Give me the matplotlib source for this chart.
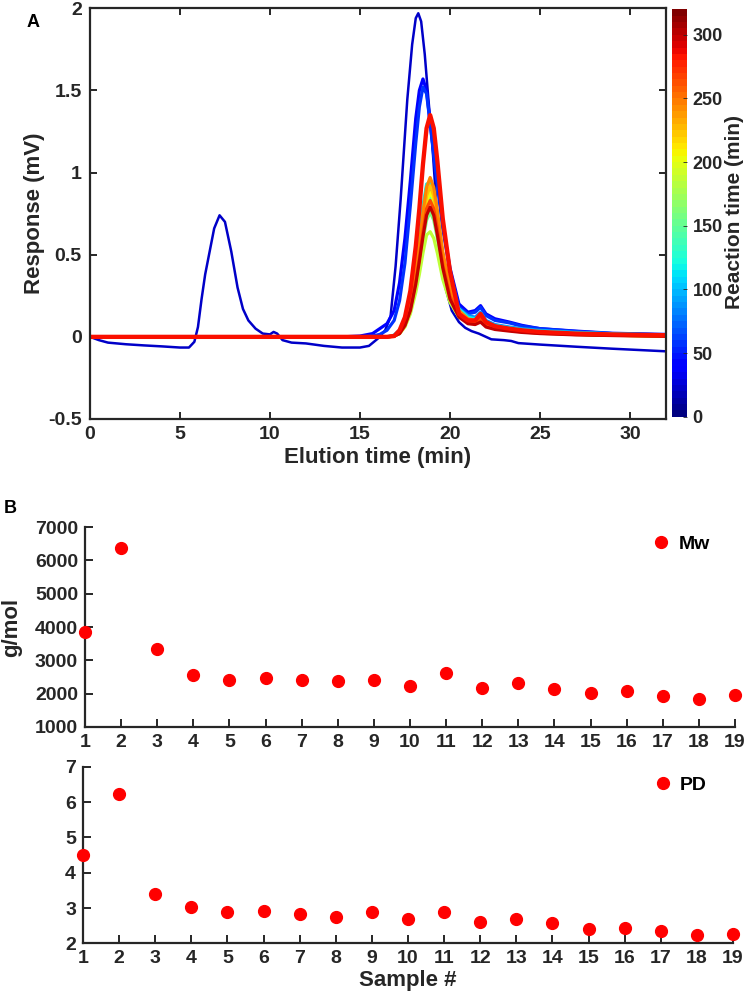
import matplotlib.pyplot as plt
import matplotlib as mpl

plt.rcParams['font.family'] = ['Liberation Sans', 'DejaVu Sans']
plt.rcParams['font.weight'] = 'bold'
plt.rcParams['axes.labelweight'] = 'bold'

# ---- panel A: chromatograms ----
# first sample (has its own time points, low-MW peak at 7 min)
t_first = [0, 0.5, 1, 2, 3, 4, 5, 5.5, 5.8, 6.0, 6.2, 6.4, 6.65, 6.9, 7.2,
           7.5, 7.85, 8.2, 8.5, 8.8, 9.2, 9.6, 10.0, 10.2, 10.4, 10.7, 11.2, 12, 13, 14, 15,
           15.5, 16.0, 16.4, 16.7, 16.98, 17.26, 17.63, 17.9, 18.1, 18.24, 18.4, 18.6, 18.8, 19.0,
           19.25, 19.5, 19.75, 20.1, 20.5, 20.85, 21.2, 21.6, 22.3, 23.0, 23.4, 23.8, 25, 27, 29, 32]
resp_first = [0, -0.02, -0.035, -0.045, -0.052, -0.058, -0.065, -0.065, -0.03, 0.06, 0.23, 0.38, 0.52, 0.66, 0.74,
              0.7, 0.52, 0.3, 0.17, 0.1, 0.05, 0.02, 0.015, 0.03, 0.02, -0.02, -0.035, -0.04, -0.055, -0.065, -0.065,
              -0.055, -0.01, 0.04, 0.125, 0.43, 0.836, 1.445, 1.78, 1.94, 1.97, 1.92, 1.72, 1.45, 1.2,
              0.8, 0.5, 0.3, 0.16, 0.09, 0.055, 0.035, 0.02, -0.015, -0.02, -0.025, -0.038, -0.047, -0.06, -0.072, -0.088]
rt_first = 20

# remaining samples on a common time grid
t_grid = [0, 14, 15, 15.7, 16.1, 16.5, 16.9, 17.2, 17.5, 17.8, 18.1, 18.3, 18.5, 18.7, 18.9,
          19.1, 19.3, 19.6, 20.0, 20.5, 21.0, 21.4, 21.7, 22.0, 22.5, 23.3, 24, 25, 27, 29, 32]
resp_40 = [0, 0, 0.005, 0.02, 0.05, 0.08, 0.16, 0.33, 0.6, 0.95, 1.33, 1.5, 1.57, 1.5, 1.3,
           1.12, 0.95, 0.68, 0.42, 0.2, 0.15, 0.16, 0.19, 0.14, 0.11, 0.09, 0.07, 0.05, 0.035, 0.022, 0.015]
resp_55 = [0, 0, 0, 0.005, 0.015, 0.04, 0.1, 0.22, 0.45, 0.8, 1.18, 1.4, 1.52, 1.48, 1.3,
           1.1, 0.93, 0.66, 0.4, 0.18, 0.14, 0.15, 0.18, 0.13, 0.1, 0.085, 0.065, 0.05, 0.033, 0.02, 0.012]
resp_85 = [0, 0, 0, 0, 0, 0, 0.01, 0.04, 0.11, 0.23, 0.43, 0.58, 0.75, 0.87, 0.89,
           0.82, 0.69, 0.48, 0.29, 0.17, 0.13, 0.12, 0.15, 0.1, 0.075, 0.06, 0.05, 0.04, 0.028, 0.02, 0.012]
resp_115 = [0, 0, 0, 0, 0, 0, 0.01, 0.04, 0.11, 0.24, 0.45, 0.61, 0.8, 0.93, 0.94,
            0.86, 0.72, 0.5, 0.3, 0.17, 0.12, 0.11, 0.14, 0.09, 0.07, 0.055, 0.045, 0.035, 0.025, 0.018, 0.01]
resp_135 = [0, 0, 0, 0, 0, 0, 0.005, 0.03, 0.09, 0.2, 0.38, 0.53, 0.7, 0.82, 0.86,
            0.8, 0.68, 0.46, 0.27, 0.15, 0.11, 0.1, 0.13, 0.08, 0.06, 0.05, 0.04, 0.03, 0.02, 0.015, 0.008]
resp_160 = [0, 0, 0, 0, 0, 0, 0.005, 0.02, 0.07, 0.16, 0.31, 0.44, 0.59, 0.71, 0.76,
            0.71, 0.6, 0.41, 0.24, 0.14, 0.1, 0.09, 0.12, 0.075, 0.055, 0.045, 0.035, 0.028, 0.018, 0.012, 0.006]
resp_185 = [0, 0, 0, 0, 0, 0, 0.005, 0.02, 0.06, 0.14, 0.27, 0.38, 0.51, 0.62, 0.64,
            0.6, 0.51, 0.35, 0.21, 0.12, 0.09, 0.085, 0.11, 0.07, 0.05, 0.04, 0.032, 0.025, 0.016, 0.01, 0.005]
resp_205 = [0, 0, 0, 0, 0, 0, 0.005, 0.025, 0.08, 0.18, 0.36, 0.51, 0.68, 0.82, 0.88,
            0.83, 0.7, 0.47, 0.27, 0.15, 0.1, 0.095, 0.125, 0.08, 0.06, 0.045, 0.035, 0.027, 0.017, 0.011, 0.005]
resp_225 = [0, 0, 0, 0, 0, 0, 0.005, 0.025, 0.08, 0.19, 0.37, 0.53, 0.71, 0.86, 0.92,
            0.86, 0.73, 0.49, 0.28, 0.155, 0.105, 0.1, 0.13, 0.08, 0.06, 0.045, 0.035, 0.026, 0.016, 0.01, 0.005]
resp_245 = [0, 0, 0, 0, 0, 0, 0.005, 0.03, 0.09, 0.2, 0.4, 0.56, 0.76, 0.91, 0.97,
            0.91, 0.77, 0.52, 0.3, 0.16, 0.11, 0.1, 0.13, 0.08, 0.06, 0.045, 0.035, 0.025, 0.015, 0.01, 0.005]
resp_265 = [0, 0, 0, 0, 0, 0, 0.005, 0.02, 0.07, 0.17, 0.34, 0.48, 0.64, 0.78, 0.83,
            0.78, 0.66, 0.44, 0.25, 0.13, 0.09, 0.085, 0.11, 0.07, 0.05, 0.04, 0.03, 0.022, 0.014, 0.009, 0.005]
resp_300 = [0, 0, 0, 0, 0, 0, 0.005, 0.02, 0.07, 0.16, 0.32, 0.46, 0.61, 0.74, 0.79,
            0.74, 0.62, 0.42, 0.23, 0.12, 0.08, 0.075, 0.09, 0.06, 0.045, 0.035, 0.027, 0.02, 0.012, 0.008, 0.004]
resp_285 = [0, 0, 0, 0, 0, 0, 0.005, 0.04, 0.12, 0.28, 0.55, 0.78, 1.05, 1.27, 1.35,
            1.27, 1.07, 0.72, 0.4, 0.14, 0.1, 0.1, 0.14, 0.09, 0.065, 0.05, 0.04, 0.03, 0.02, 0.015, 0.01]

reaction_times = [40, 55, 85, 115, 135, 160, 185, 205, 225, 245, 265, 300, 285]
responses = [resp_40, resp_55, resp_85, resp_115, resp_135, resp_160, resp_185,
             resp_205, resp_225, resp_245, resp_265, resp_300, resp_285]

# ---- panel B: Mw and PD per sample ----
samples = list(range(1, 20))
mw = [3850, 6380, 3330, 2550, 2420, 2460, 2400, 2380, 2420, 2220,
      2620, 2160, 2310, 2140, 2010, 2080, 1940, 1840, 1960]
pd_vals = [4.49, 6.24, 3.39, 3.04, 2.9, 2.92, 2.82, 2.75, 2.9, 2.69,
           2.9, 2.6, 2.69, 2.58, 2.4, 2.43, 2.36, 2.25, 2.26]

spine_col = '#262626'
cmap = plt.get_cmap('jet')
norm = mpl.colors.Normalize(0, 320)

fig = plt.figure(figsize=(7.46, 9.91), dpi=100)

ax = fig.add_axes([0.1206, 0.5772, 0.7721, 0.4144])
ax.plot(t_first, resp_first, color=cmap(norm(rt_first)), lw=1.8, solid_joinstyle='round')
for rt, resp in zip(reaction_times, responses):
    lw = 3.1 if rt == 285 else 2.3
    ax.plot(t_grid, resp, color=cmap(norm(rt)), lw=lw, solid_joinstyle='round')
ax.set_xlim(0, 32)
ax.set_ylim(-0.5, 2)
ax.set_xticks([0, 5, 10, 15, 20, 25, 30])
ax.set_yticks([-0.5, 0, 0.5, 1, 1.5, 2])
ax.set_yticklabels(['-0.5', '0', '0.5', '1', '1.5', '2'])
ax.tick_params(direction='in', top=True, right=True, length=5, width=1.4,
               labelsize=14, pad=6, colors=spine_col)
ax.tick_params(axis='x', pad=5)
for s in ax.spines.values():
    s.set_linewidth(1.6)
    s.set_color(spine_col)
ax.set_xlabel('Elution time (min)', fontsize=16, color=spine_col, labelpad=3)
ax.set_ylabel('Response (mV)', fontsize=16, color=spine_col)
ax.yaxis.set_label_coords(-0.078, 0.5)

cax = fig.add_axes([0.9008, 0.5795, 0.0201, 0.4111])
cb = fig.colorbar(mpl.cm.ScalarMappable(norm=norm, cmap=plt.get_cmap('jet', 64)), cax=cax)
cb.outline.set_visible(False)
cb.set_ticks([0, 50, 100, 150, 200, 250, 300])
cb.ax.tick_params(direction='in', length=3, width=0.6, labelsize=13, pad=4, colors=spine_col)
fig.text(734 / 746, 0.786, 'Reaction time (min)', rotation=90, fontsize=15,
         fontweight='bold', color=spine_col, ha='center', va='center')

fig.text(0.044, 0.977, 'A', fontsize=13, fontweight='bold', ha='center', va='center')
fig.text(0.014, 0.487, 'B', fontsize=13, fontweight='bold', ha='center', va='center')


def style_b(a):
    a.spines['top'].set_visible(False)
    a.spines['right'].set_visible(False)
    for side in ('left', 'bottom'):
        a.spines[side].set_linewidth(1.6)
        a.spines[side].set_color(spine_col)
    a.set_xlim(1, 19)
    a.set_xticks(samples)
    a.tick_params(direction='in', length=6, width=1.4, labelsize=14, pad=5, colors=spine_col)


ax1 = fig.add_axes([0.1139, 0.2664, 0.8713, 0.2018])
ax1.plot(samples, mw, 'o', color='#ff0000', ms=8.5, clip_on=False, label='Mw', zorder=5)
style_b(ax1)
ax1.set_ylim(1000, 7000)
ax1.set_yticks([1000, 2000, 3000, 4000, 5000, 6000, 7000])
ax1.set_ylabel('g/mol', fontsize=16, color=spine_col)
ax1.yaxis.set_label_coords(-0.097, 0.5)
ax1.legend(loc='center left', bbox_to_anchor=(0.871, 0.915), frameon=False, fontsize=14,
           handlelength=1, handletextpad=0.4, borderpad=0, borderaxespad=0, numpoints=1)

ax2 = fig.add_axes([0.1113, 0.0481, 0.8713, 0.1782])
ax2.plot(samples, pd_vals, 'o', color='#ff0000', ms=8.5, clip_on=False, label='PD', zorder=5)
style_b(ax2)
ax2.set_ylim(2, 7)
ax2.set_yticks([2, 3, 4, 5, 6, 7])
ax2.set_xlabel('Sample #', fontsize=16, color=spine_col, labelpad=2)
ax2.legend(loc='center left', bbox_to_anchor=(0.8766, 0.898), frameon=False, fontsize=14,
           handlelength=1, handletextpad=0.4, borderpad=0, borderaxespad=0, numpoints=1)

fig.savefig('out.png', dpi=100)
